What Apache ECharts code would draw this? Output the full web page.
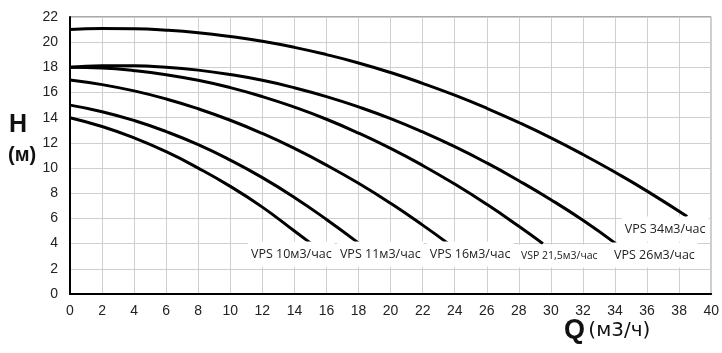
<!DOCTYPE html>
<html>
<head>
<meta charset="utf-8">
<script src="https://cdn.jsdelivr.net/npm/echarts@6/dist/echarts.min.js"></script>
<style>html,body{margin:0;padding:0;background:#fff}#c{width:722px;height:353px}</style>
</head>
<body>
<div id="c"></div>
<script>
// Data: flow Q (m3/h) and head H (m)
const q10 = [0, 2, 4, 6, 8, 10, 12, 14, 15.05];
const h10 = [14, 13.3, 12.4, 11.3, 10.0, 8.55, 6.9, 5.0, 4.0];
const q11 = [0, 2, 4, 6, 8, 10, 12, 14, 16, 18.05];
const h11 = [15, 14.48, 13.78, 12.9, 11.86, 10.63, 9.24, 7.67, 5.92, 4.0];
const q16 = [0, 2, 4, 6, 8, 10, 12, 14, 16, 18, 20, 22, 23.6];
const h16 = [17, 16.63, 16.13, 15.49, 14.71, 13.8, 12.75, 11.56, 10.24, 8.79, 7.2, 5.47, 4.0];
const q21 = [0, 2, 4, 6, 8, 10, 12, 14, 16, 18, 20, 22, 24, 26, 28, 29.5];
const h21 = [18, 17.94, 17.74, 17.42, 16.97, 16.39, 15.68, 14.84, 13.88, 12.78, 11.56, 10.21, 8.73, 7.12, 5.38, 4.0];
const q26 = [0, 2, 4, 6, 8, 10, 12, 14, 16, 18, 20, 22, 24, 26, 28, 30, 32, 34.05];
const h26 = [18, 18.12, 18.12, 18.01, 17.78, 17.43, 16.97, 16.38, 15.68, 14.86, 13.93, 12.87, 11.7, 10.41, 9.0, 7.49, 5.85, 4.0];
const q34 = [0, 2, 4, 6, 8, 10, 12, 14, 16, 18, 20, 22, 24, 26, 28, 30, 32, 34, 36, 38.5];
const h34 = [21, 21.08, 21.06, 20.95, 20.75, 20.45, 20.07, 19.59, 19.01, 18.35, 17.59, 16.73, 15.79, 14.75, 13.62, 12.4, 11.08, 9.67, 8.17, 6.15];

const names = ['VPS 10м3/час', 'VPS 11м3/час', 'VPS 16м3/час', 'VSP 21,5м3/час', 'VPS 26м3/час', 'VPS 34м3/час'];
const labelQ = [11.1, 16.65, 22.25, 27.95, 33.75, 34.42];
const labelH = [3.18, 3.18, 3.18, 3.02, 3.1, 5.16];
const labelSize = [12.5, 12.5, 12.5, 10.5, 12.5, 12.5];

const xTicks = {min: 0, max: 40, interval: 2};
const yTicks = {min: 0, max: 22, interval: 2};

const qs = [q10, q11, q16, q21, q26, q34];
const hs = [h10, h11, h16, h21, h26, h34];

const chart = echarts.init(document.getElementById('c'));
const series = qs.map((q, i) => ({
  type: 'line',
  name: names[i],
  smooth: true,
  showSymbol: false,
  symbol: 'none',
  lineStyle: {color: '#000', width: 3},
  data: q.map((v, j) => [v, hs[i][j]]),
  z: 3,
  markPoint: {
    symbol: 'circle',
    symbolSize: 0,
    silent: true,
    data: [{
      coord: [labelQ[i], labelH[i]],
      label: {
        show: true,
        position: 'right',
        distance: 0,
        formatter: names[i],
        color: '#222',
        fontFamily: 'Open Sans',
        fontSize: labelSize[i],
        backgroundColor: '#fff',
        padding: [6, 3, 6, 3]
      }
    }]
  }
}));

chart.setOption({
  animation: false,
  backgroundColor: '#fff',
  grid: {left: 70, right: 10, top: 17, bottom: 59, show: true, borderColor: '#555', borderWidth: 1, backgroundColor: 'transparent'},
  xAxis: {
    type: 'value', min: xTicks.min, max: xTicks.max, interval: xTicks.interval,
    axisLine: {show: true, lineStyle: {color: '#000', width: 2}},
    axisTick: {show: false},
    axisLabel: {color: '#222', fontFamily: 'Liberation Sans', fontSize: 14, margin: 10},
    splitLine: {show: true, lineStyle: {color: '#cfcfcf', width: 1}}
  },
  yAxis: {
    type: 'value', min: yTicks.min, max: yTicks.max, interval: yTicks.interval,
    axisLine: {show: true, lineStyle: {color: '#000', width: 2}},
    axisTick: {show: false},
    axisLabel: {color: '#222', fontFamily: 'Liberation Sans', fontSize: 14, margin: 12},
    splitLine: {show: true, lineStyle: {color: '#cfcfcf', width: 1}}
  },
  graphic: [
    {type: 'text', left: 9, top: 113, style: {text: 'H', font: 'bold 25px "Liberation Sans"', fill: '#111'}},
    {type: 'text', left: 8, top: 145, style: {text: '(м)', font: 'bold 20px "Liberation Sans"', fill: '#111'}},
    {type: 'text', left: 564, top: 317, style: {
      text: '{q|Q} {u|(м3/ч)}',
      rich: {
        q: {font: 'bold 27px "Liberation Sans"', fill: '#111'},
        u: {font: '20px "DejaVu Sans"', fill: '#111'}
      }
    }}
  ],
  series: series
});
</script>
</body>
</html>
